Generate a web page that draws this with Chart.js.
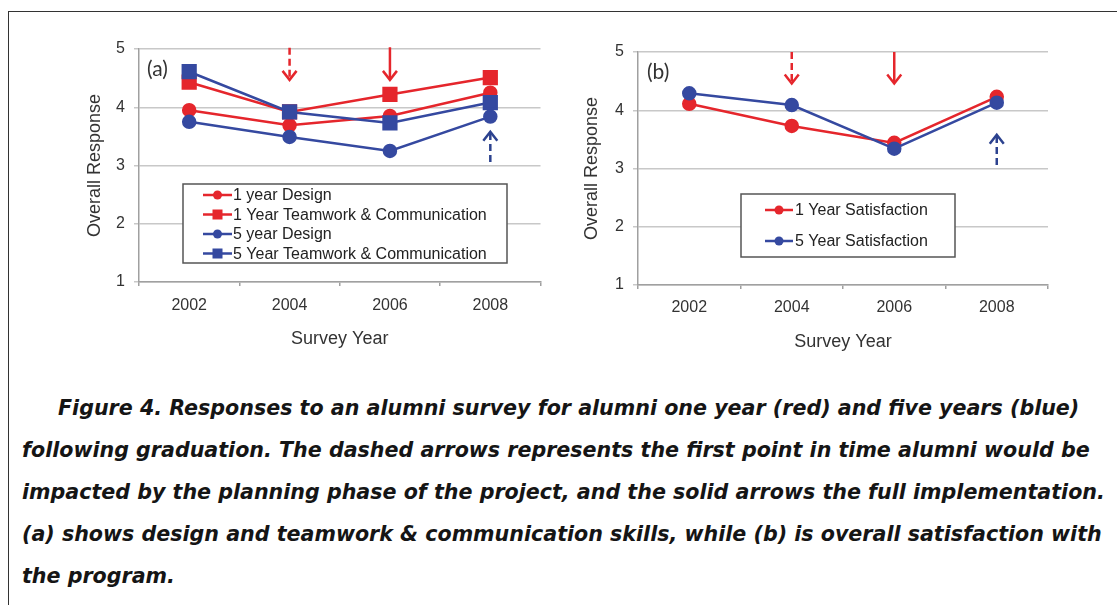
<!DOCTYPE html>
<html>
<head>
<meta charset="utf-8">
<script src="https://cdn.jsdelivr.net/npm/chart.js@4/dist/chart.umd.min.js"></script>
<style>
  html, body { margin:0; padding:0; background:#fff; }
  #page { position:relative; width:1117px; height:605px; overflow:hidden; background:#fff; }
  #frame { position:absolute; left:8px; top:11px; width:1200px; height:700px; border-left:1.5px solid #333; border-top:1.5px solid #333; }
  canvas { position:absolute; top:0; }
  #chartA { left:0; }
  #chartB { left:552px; }
  .cap { position:absolute; white-space:nowrap; font-family:"DejaVu Sans", sans-serif; font-weight:700; font-style:italic; color:#151515; line-height:1; }
</style>
</head>
<body>
<div id="page">
  <div id="frame"></div>
  <canvas id="chartA" width="552" height="360"></canvas>
  <canvas id="chartB" width="520" height="360"></canvas>
</div>
<script>
const years = ['2002', '2004', '2006', '2008'];
const yTicks = [1, 2, 3, 4, 5];

// panel (a)
const oneYearDesign = [3.95, 3.69, 3.85, 4.25];
const oneYearTeam = [4.43, 3.92, 4.22, 4.51];
const fiveYearDesign = [3.75, 3.49, 3.25, 3.84];
const fiveYearTeam = [4.61, 3.92, 3.73, 4.08];

// panel (b)
const oneYearSat = [4.11, 3.73, 3.44, 4.23];
const fiveYearSat = [4.29, 4.09, 3.34, 4.13];

// arrows: category index, start value, tip value, dashed?
const arrowsA = [
    { cat: 1, from: 5.02, to: 4.47, dashed: true, col: 'red' },
    { cat: 2, from: 5.03, to: 4.47, dashed: false, col: 'red' },
    { cat: 3, from: 3.06, to: 3.58, dashed: true, col: 'blue' }
];
const arrowsB = [
    { cat: 1, from: 5.0, to: 4.46, dashed: true, col: 'red' },
    { cat: 2, from: 5.0, to: 4.46, dashed: false, col: 'red' },
    { cat: 3, from: 3.06, to: 3.58, dashed: true, col: 'blue' }
];

const captionLines = [
    'Figure 4. Responses to an alumni survey for alumni one year (red) and five years (blue)',
    'following graduation. The dashed arrows represents the first point in time alumni would be',
    'impacted by the planning phase of the project, and the solid arrows the full implementation.',
    '(a) shows design and teamwork & communication skills, while (b) is overall satisfaction with',
    'the program.'
];

const RED = '#e5262c';
const BLUE = '#3549a0';
const ARROW = { red: '#e5262c', blue: '#2c428f' };
const FONT = "'Liberation Sans', Arial, sans-serif";

const series = (label, data, color, shape, order) => ({
    label: label,
    data: data,
    borderColor: color,
    backgroundColor: color,
    pointBackgroundColor: color,
    pointBorderColor: color,
    pointStyle: shape,
    pointRadius: shape === 'rect' ? 9 : 6,
    borderWidth: 2.5,
    tension: 0,
    order: order
});

const arrowPlugin = {
    id: 'arrows',
    afterDatasetsDraw(chart, args, opts) {
        const ctx = chart.ctx;
        const xs = chart.scales.x, ys = chart.scales.y;
        (opts.list || []).forEach(a => {
            const x = xs.getPixelForValue(a.cat);
            const y1 = ys.getPixelForValue(a.from);
            const y2 = ys.getPixelForValue(a.to);
            const dir = y2 > y1 ? 1 : -1;
            ctx.save();
            ctx.strokeStyle = ARROW[a.col];
            ctx.lineWidth = 2.5;
            ctx.lineCap = 'butt';
            ctx.setLineDash(a.dashed ? [7, 4] : []);
            ctx.beginPath();
            ctx.moveTo(x, y1);
            ctx.lineTo(x, y2 - dir * 1);
            ctx.stroke();
            ctx.setLineDash([]);
            ctx.beginPath();
            ctx.moveTo(x - 7, y2 - dir * 9);
            ctx.lineTo(x, y2);
            ctx.lineTo(x + 7, y2 - dir * 9);
            ctx.stroke();
            ctx.restore();
        });
    }
};

const boxLegend = {
    id: 'boxLegend',
    afterDatasetsDraw(chart, args, opts) {
        const ctx = chart.ctx;
        ctx.save();
        ctx.fillStyle = '#fff';
        ctx.fillRect(opts.x, opts.y, opts.w, opts.h);
        ctx.strokeStyle = '#555';
        ctx.lineWidth = 1.5;
        ctx.strokeRect(opts.x, opts.y, opts.w, opts.h);
        ctx.font = '16px ' + FONT;
        ctx.textBaseline = 'middle';
        ctx.textAlign = 'left';
        opts.items.forEach((i, k) => {
            const ds = chart.data.datasets[i];
            const yy = opts.rows[k];
            const mx = (opts.lx1 + opts.lx2) / 2;
            ctx.strokeStyle = ds.borderColor;
            ctx.lineWidth = 2.5;
            ctx.beginPath();
            ctx.moveTo(opts.lx1, yy);
            ctx.lineTo(opts.lx2, yy);
            ctx.stroke();
            ctx.fillStyle = ds.borderColor;
            if (ds.pointStyle === 'rect') {
                ctx.fillRect(mx - 5, yy - 5, 10, 10);
            } else {
                ctx.beginPath();
                ctx.arc(mx, yy, 4.5, 0, Math.PI * 2);
                ctx.fill();
            }
            ctx.fillStyle = '#222';
            ctx.fillText(ds.label, opts.tx, yy + 1);
        });
        ctx.restore();
    }
};

const panelLabel = {
    id: 'panelLabel',
    afterDraw(chart, args, opts) {
        const ctx = chart.ctx;
        ctx.save();
        ctx.font = "21px Lato, 'Open Sans', sans-serif";
        ctx.fillStyle = '#333';
        ctx.textBaseline = 'middle';
        ctx.textAlign = 'left';
        ctx.fillText(opts.text, opts.x, opts.y);
        ctx.restore();
    }
};

function makeChart(id, datasets, dims, arrows, legendOpts, label) {
    return new Chart(document.getElementById(id), {
        type: 'line',
        data: { labels: years, datasets: datasets },
        plugins: [arrowPlugin, boxLegend, panelLabel],
        options: {
            responsive: false,
            animation: false,
            devicePixelRatio: 1,
            layout: { padding: { top: dims.top, right: dims.right, left: 0, bottom: 0 } },
            plugins: {
                legend: { display: false },
                tooltip: { enabled: false },
                arrows: { list: arrows },
                boxLegend: legendOpts,
                panelLabel: label
            },
            scales: {
                x: {
                    type: 'category',
                    offset: true,
                    afterFit: (s) => { s.height = dims.xh; },
                    grid: { display: true, drawOnChartArea: false, offset: true, tickLength: 4, color: '#a0a0a0', lineWidth: 1.5 },
                    border: { display: true, color: '#a0a0a0', width: 1.5 },
                    ticks: { color: '#333', padding: dims.xpad, font: { size: 16, family: FONT } },
                    title: { display: true, text: 'Survey Year', color: '#333', padding: { top: 0, bottom: dims.xtitle }, font: { size: 18, family: FONT } }
                },
                y: {
                    min: 1,
                    max: 5,
                    afterFit: (s) => { s.width = dims.yw; },
                    afterBuildTicks: (s) => { s.ticks = yTicks.map(v => ({ value: v })); },
                    grid: { color: '#c8c8c8', lineWidth: 1.5, tickLength: 5 },
                    border: { display: true, color: '#a0a0a0', width: 1.5 },
                    ticks: { color: '#333', padding: 9, font: { size: 16, family: FONT } },
                    title: { display: true, text: 'Overall Response', color: '#333', padding: { top: dims.ytitle, bottom: 0 }, font: { size: 18, family: FONT } }
                }
            }
        }
    });
}

makeChart('chartA', [
    series('1 year Design', oneYearDesign, RED, 'circle', 1),
    series('1 Year Teamwork & Communication', oneYearTeam, RED, 'rect', 1),
    series('5 year Design', fiveYearDesign, BLUE, 'circle', 0),
    series('5 Year Teamwork & Communication', fiveYearTeam, BLUE, 'rect', 0)
], { top: 49, right: 7, xh: 78, yw: 139, xpad: 10, xtitle: 10, ytitle: 84 }, arrowsA,
{ x: 183, y: 184, w: 324, h: 79, rows: [195, 214.5, 234, 253.5], lx1: 203, lx2: 232, tx: 233, items: [0, 1, 2, 3] },
{ text: '(a)', x: 147, y: 69 });

makeChart('chartB', [
    series('1 Year Satisfaction', oneYearSat, RED, 'circle', 1),
    series('5 Year Satisfaction', fiveYearSat, BLUE, 'circle', 0)
], { top: 52, right: 24, xh: 75, yw: 86, xpad: 9, xtitle: 7, ytitle: 29 }, arrowsB,
{ x: 189, y: 194, w: 214, h: 63, rows: [210, 241], lx1: 213, lx2: 241, tx: 243, items: [0, 1] },
{ text: '(b)', x: 95, y: 72 });

// caption, fitted so the widest line spans the frame
const page = document.getElementById('page');
const measure = document.createElement('canvas').getContext('2d');
measure.font = "italic 700 20px 'DejaVu Sans'";
const w3 = measure.measureText(captionLines[2]).width;
const capSize = 20 * 1083 / w3;
const capLeft = [58, 22, 22, 22, 22];
const capY = [409, 451, 493, 535, 577];
captionLines.forEach((t, i) => {
    const d = document.createElement('div');
    d.className = 'cap';
    d.textContent = t;
    d.style.fontSize = capSize.toFixed(2) + 'px';
    d.style.left = capLeft[i] + 'px';
    d.style.top = (capY[i] - capSize * 0.55) + 'px';
    page.appendChild(d);
});
</script>
</body>
</html>
